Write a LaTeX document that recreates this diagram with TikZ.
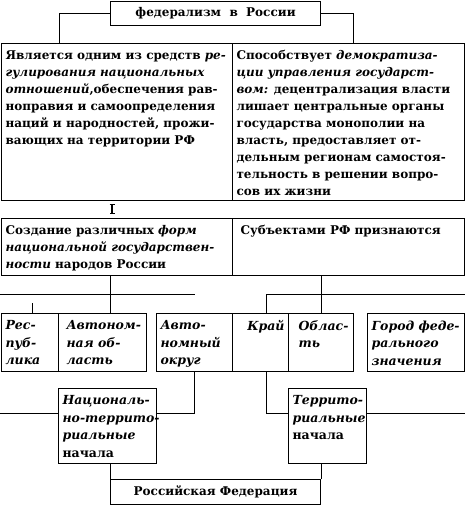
\documentclass[tikz,border=0pt]{standalone}
\usepackage{fontspec}
\setmainfont{DejaVu Serif}
\usetikzlibrary{arrows.meta}

\tikzset{
    cell/.style={draw, line width=1.1pt, anchor=north west, inner xsep=4pt, inner ysep=3pt,
        font=\bfseries\fontsize{12}{17}\selectfont},
    kind/.style={cell, font=\bfseries\itshape\fontsize{12.5}{17.5}\selectfont},
    link/.style={line width=0.8pt},
}
\newcommand{\celltext}[3]{\parbox[t][\dimexpr#2pt-6pt\relax][t]{\dimexpr#1pt-8pt\relax}{\exhyphenpenalty=10000 \hyphenpenalty=10000 \raggedright\vspace*{4pt}#3}}

\begin{document}
\begin{tikzpicture}[x=1pt, y=-1pt]
        \useasboundingbox (0, 0) rectangle (465, 512);
        \node (fed) at (110, 1) [cell] {\parbox[t][18pt][c]{202pt}{\centering федерализм\ \ в\ \ России}};
        \node (bigL) at (1, 43) [cell] {\celltext{231}{157}{Является одним из средств \textit{ре-}\\
            \textit{гулирования национальных}\\
            \textit{отношений},обеспечения рав-\\
            ноправия и самоопределения\\
            наций и народностей, прожи-\\
            вающих на территории РФ}};
        \node (bigR) at (232, 43) [cell] {\celltext{232}{157}{Способствует \textit{демократиза-}\\
            \textit{ции управления государст-}\\
            \textit{вом:} децентрализация власти\\
            лишает центральные органы\\
            государства монополии на\\
            власть, предоставляет от-\\
            дельным регионам самостоя-\\
            тельность в решении вопро-\\
            сов их жизни}};
        \node (forms) at (1, 218) [cell] {\celltext{231}{57}{Создание различных \textit{форм}\\
            \textit{национальной государствен-}\\
            \textit{ности} народов России}};
        \node (subj) at (232, 218) [cell] {\celltext{232}{57}{\hspace*{4pt}Субъектами РФ признаются}};
        \node (respub) at (1, 313) [kind] {\celltext{57}{58}{Рес-\\ пуб-\\ лика}};
        \node (avtobl) at (58, 313) [kind] {\celltext{88}{58}{\hspace*{4pt}Автоном-\\ \hspace*{4pt}ная об-\\ \hspace*{4pt}ласть}};
        \node (okrug) at (156, 313) [kind] {\celltext{76}{58}{Авто-\\ номный\\ округ}};
        \node (kray) at (232, 313) [kind] {\celltext{56}{58}{\hfill Край}};
        \node (oblast) at (288, 313) [kind] {\celltext{65}{58}{\hspace*{6pt}Облас-\\ \hspace*{6pt}ть}};
        \node (gorod) at (367, 313) [kind] {\celltext{97}{58}{Город феде-\\ рального\\ значения}};
        \node (nac) at (58, 388) [kind] {\celltext{98}{75}{Националь-\\ но-террито-\\ риальные\\ \upshape начала}};
        \node (terr) at (288, 388) [kind] {\celltext{78}{75}{Террито-\\ риальные\\ \upshape начала}};
        \node (rf) at (110, 479) [cell] {\parbox[t][19pt][c]{202pt}{\centering Российская Федерация}};
        \coordinate (xl) at (59, 0);
        \coordinate (xr) at (353, 0);
        \coordinate (xi) at (112, 0);
        \coordinate (xa) at (110, 0);
        \coordinate (xk) at (266, 0);
        \coordinate (hl) at (0, 294);
        \coordinate (hm) at (195, 294);
        \coordinate (hr) at (465, 294);
        \coordinate (st) at (32, 303);
        \coordinate (yl) at (0, 413);
        \coordinate (yr) at (465, 413);
        \draw[link] (fed.west) -| (bigL.north -| xl);
        \draw[link] (fed.east) -| (bigR.north -| xr);
        \draw[line width=1.3pt, {Bar[width=5pt]}-{Bar[width=5pt]}, shorten <=3pt, shorten >=4pt] (bigL.south -| xi) -- (forms.north -| xi);
        \draw[link] (forms.south -| xa) -- (avtobl.north -| xa);
        \draw[link] (hl) -- (hm);
        \draw[link] (st) -- (st |- respub.north);
        \draw[line width=1pt] (subj.south -| oblast.north) -- (oblast.north);
        \draw[link] (hr) -| (kray.north -| xk);
        \draw[link] (okrug.south) |- (nac.east |- yl);
        \draw[link] (yl) -- (nac.west |- yl);
        \draw[link] (kray.south -| xk) |- (terr.west |- yl);
        \draw[link] (terr.east |- yr) -- (yr);
        \draw[link] (rf.north west) -- (rf.north west |- nac.south);
        \draw[link] (rf.north east) -- (rf.north east |- terr.south);
    \end{tikzpicture}
\end{document}
